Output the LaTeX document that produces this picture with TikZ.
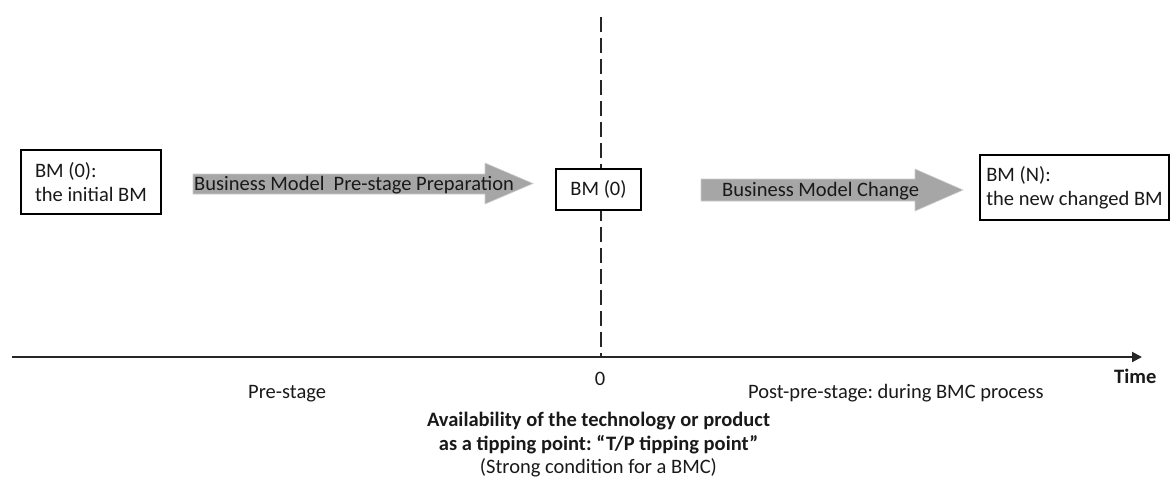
\documentclass[tikz,border=0pt]{standalone}
\usepackage{fontspec}
\setmainfont{Carlito}
\usetikzlibrary{arrows.meta}
\frenchspacing
\begin{document}
\begin{tikzpicture}[x=1pt,y=-1pt,
  every node/.style={font=\fontsize{20.5}{24.4}\selectfont, text=black!90},
  bmbox/.style={draw=black, line width=1.2pt, fill=white, inner sep=0pt, minimum height=#1, align=left},
  blockarrow/.style={fill=black!35, draw=black!20, line width=0.6pt},
  lbl/.style={inner sep=0pt, anchor=base west},
  clbl/.style={inner sep=0pt, anchor=base},
  boldtxt/.style={font=\fontsize{20.5}{24}\selectfont\bfseries},
]
\useasboundingbox (0,0) rectangle (1171,477);

% time axis
\coordinate (axL) at (12,357);
\coordinate (axR) at (1142,357);
\draw[line width=2pt, black!85, -{Triangle[length=10pt,width=10pt]}] (axL) -- (axR);

% tipping line
\coordinate (tTop) at (601,17);
\coordinate (tBot) at (601,357);
\draw[line width=2pt, black!85, dash pattern=on 15pt off 6pt] (tTop) -- (tBot);

% block arrows
\fill[blockarrow] (193,174) -- (485,174) -- (485,163) -- (533,183.5) -- (485,204) -- (485,194) -- (193,194) -- cycle;
\fill[blockarrow] (701,179) -- (915,179) -- (915,169) -- (963,190) -- (915,211) -- (915,201) -- (701,201) -- cycle;
\node[lbl] (prep) at (194,190.5) {Business Model\ \ Pre-stage Preparation};
\node[lbl] (chg) at (722,196.5) {Business Model Change};

% boxes
\node[bmbox=64pt, minimum width=140pt] (bm0) at (91,182) {BM (0):\\the initial BM};
\node[bmbox=41pt, minimum width=85pt, align=center] (bmmid) at (598.5,189.5) {BM (0)};
\node[bmbox=65pt, minimum width=189pt] (bmN) at (1074.5,187.5) {BM (N):\\the new changed BM};

% axis labels
\node[clbl] (zero) at (600,385) {0};
\node[lbl, boldtxt] (time) at (1114,383) {Time};
\node[lbl] (pre) at (248,398) {Pre-stage};
\node[lbl] (post) at (748,398) {Post-pre-stage: during BMC process};
\node[clbl, boldtxt] (tp1) at (598.5,426) {Availability of the technology or product};
\node[clbl, boldtxt] (tp2) at (598.5,450) {as a tipping point: “T/P tipping point”};
\node[clbl] (tp3) at (598.5,473) {(Strong condition for a BMC)};
\end{tikzpicture}
\end{document}
